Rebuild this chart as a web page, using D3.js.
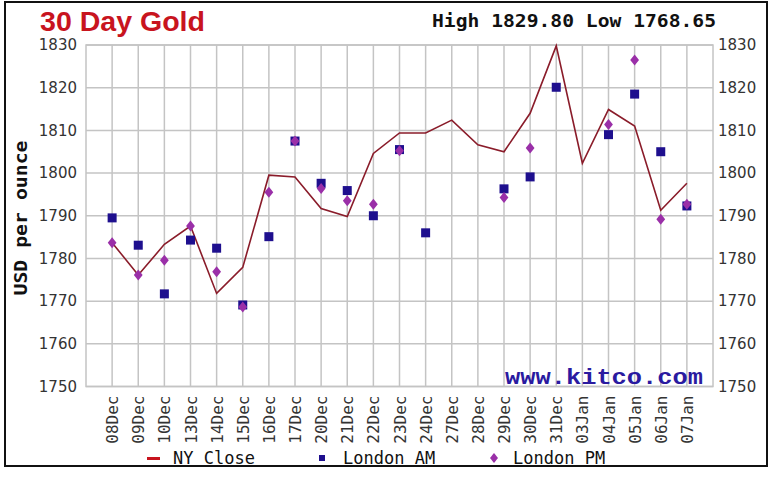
<!DOCTYPE html>
<html><head><meta charset="utf-8">
<script src="https://cdn.jsdelivr.net/npm/d3@7"></script>
<style>body{margin:0;background:#fff}svg{display:block}</style>
</head><body>
<svg id="c" width="780" height="478"></svg>
<script>
const categories = ["08Dec","09Dec","10Dec","13Dec","14Dec","15Dec","16Dec","17Dec","20Dec","21Dec","22Dec","23Dec","24Dec","27Dec","28Dec","29Dec","30Dec","31Dec","03Jan","04Jan","05Jan","06Jan","07Jan"];
const nyClose = [1783.7,1776.1,1783.3,1787.6,1771.8,1777.9,1799.5,1799.1,1791.7,1789.8,1804.6,1809.4,1809.4,1812.4,1806.6,1805.0,1814.0,1829.8,1802.3,1814.9,1811.0,1791.3,1797.6];
const londonAM = [1789.5,1783.1,1771.7,1784.3,1782.4,1769.1,1785.1,1807.5,1797.6,1795.9,1790.0,1805.5,1786.0,null,null,1796.3,1799.1,1820.1,null,1809.0,1818.5,1805.0,1792.3];
const londonPM = [1783.7,1776.1,1779.6,1787.6,1776.9,1768.65,1795.5,1807.5,1796.4,1793.5,1792.7,1805.2,null,null,null,1794.3,1805.9,null,null,1811.4,1826.5,1789.2,1792.7];
const yTicks = [1750,1760,1770,1780,1790,1800,1810,1820,1830];
const titleText = "30 Day Gold";
const highLowText = "High 1829.80 Low 1768.65";
const yTitle = "USD per ounce";
const watermark = "www.kitco.com";
const legendItems = ["NY Close","London AM","London PM"];

const svg = d3.select("#c");
const L = 86, R = 713, T = 45, B = 386.5;
const x = d3.scalePoint().domain(categories).range([L, R]).padding(1);
const y = d3.scaleLinear().domain([1750, 1830]).range([B, T]);
const grid = "#c4c4c4";

// frame
svg.append("rect").attr("x",5).attr("y",2).attr("width",762).attr("height",464)
  .attr("fill","#fff").attr("stroke","#111").attr("stroke-width",2);

// grid
svg.append("g").selectAll("line").data(yTicks).join("line")
  .attr("x1",L).attr("x2",R).attr("y1",d=>y(d)).attr("y2",d=>y(d))
  .attr("stroke",grid).attr("stroke-width",1.5);
svg.append("g").selectAll("line").data(categories).join("line")
  .attr("x1",d=>x(d)).attr("x2",d=>x(d)).attr("y1",T).attr("y2",B)
  .attr("stroke",grid).attr("stroke-width",1.5);
svg.append("rect").attr("x",L).attr("y",T).attr("width",R-L).attr("height",B-T)
  .attr("fill","none").attr("stroke",grid).attr("stroke-width",1.5);

// y axes (left & right)
const fmt = d3.format("d");
const yAxisL = d3.axisLeft(y).tickValues(yTicks).tickFormat(fmt).tickSize(0).tickPadding(9);
const gL = svg.append("g").attr("transform",`translate(${L},0)`).call(yAxisL);
const yAxisR = d3.axisRight(y).tickValues(yTicks).tickFormat(fmt).tickSize(0).tickPadding(5);
const gR = svg.append("g").attr("transform",`translate(${R},0)`).call(yAxisR);
[gL,gR].forEach(g=>{
  g.select(".domain").remove();
  g.selectAll("text").attr("font-family","DejaVu Sans").attr("font-size",15).attr("fill","#333");
});

// x axis
const xAxis = d3.axisBottom(x).tickSize(0).tickPadding(0);
const gX = svg.append("g").attr("transform",`translate(0,${B})`).call(xAxis);
gX.select(".domain").remove();
gX.selectAll("text")
  .attr("font-family","DejaVu Sans Mono").attr("font-size",16).attr("fill","#333")
  .attr("transform","rotate(-90)").attr("text-anchor","end")
  .attr("x",-9).attr("y",0).attr("dy","0.35em");

// watermark
svg.append("text").attr("x",703).attr("y",384).attr("text-anchor","end")
  .attr("font-family","Liberation Mono").attr("font-weight","bold").attr("font-size",22)
  .attr("textLength",198).attr("lengthAdjust","spacingAndGlyphs")
  .attr("fill","#2a1aa0").text(watermark);

// NY close line
const line = d3.line().x((d,i)=>x(categories[i])).y(d=>y(d));
svg.append("path").datum(nyClose).attr("d",line).attr("fill","none")
  .attr("stroke","#8a1c2a").attr("stroke-width",1.6);

// London AM squares
const sq = 9;
svg.append("g").selectAll("rect")
  .data(londonAM.map((v,i)=>({c:categories[i],v})).filter(d=>d.v!=null)).join("rect")
  .attr("x",d=>x(d.c)-sq/2).attr("y",d=>y(d.v)-sq/2).attr("width",sq).attr("height",sq)
  .attr("fill","#1e0f8e");

// London PM diamonds
const dm = 5.5;
svg.append("g").selectAll("path")
  .data(londonPM.map((v,i)=>({c:categories[i],v})).filter(d=>d.v!=null)).join("path")
  .attr("d",d=>{const cx=x(d.c),cy=y(d.v);return `M${cx},${cy-dm}L${cx+dm*0.8},${cy}L${cx},${cy+dm}L${cx-dm*0.8},${cy}Z`;})
  .attr("fill","#9a2fa8");

// title
svg.append("text").attr("x",40).attr("y",31)
  .attr("font-family","Liberation Sans").attr("font-weight","bold").attr("font-size",27)
  .attr("textLength",165).attr("lengthAdjust","spacingAndGlyphs")
  .attr("fill","#c8141e").text(titleText);
svg.append("text").attr("x",716).attr("y",27).attr("text-anchor","end")
  .attr("font-family","DejaVu Sans Mono").attr("font-weight","bold").attr("font-size",18)
  .attr("textLength",284).attr("lengthAdjust","spacingAndGlyphs")
  .attr("fill","#111").text(highLowText);

// y title
svg.append("text").attr("transform","translate(27,218) rotate(-90)").attr("text-anchor","middle")
  .attr("font-family","DejaVu Sans Mono").attr("font-weight","bold").attr("font-size",17)
  .attr("textLength",155).attr("lengthAdjust","spacingAndGlyphs")
  .attr("fill","#111").text(yTitle);

// legend
const lg = svg.append("g").attr("font-family","DejaVu Sans Mono").attr("font-size",17).attr("fill","#111");
lg.append("rect").attr("x",147).attr("y",457).attr("width",13).attr("height",3).attr("fill","#c8141e");
lg.append("text").attr("x",173).attr("y",464).text(legendItems[0]);
lg.append("rect").attr("x",319).attr("y",455).attr("width",6).attr("height",6).attr("fill","#1e0f8e");
lg.append("text").attr("x",343).attr("y",464).text(legendItems[1]);
lg.append("path").attr("d","M494,453L498,458L494,463L490,458Z").attr("fill","#9a2fa8");
lg.append("text").attr("x",513).attr("y",464).text(legendItems[2]);
</script>
</body></html>
